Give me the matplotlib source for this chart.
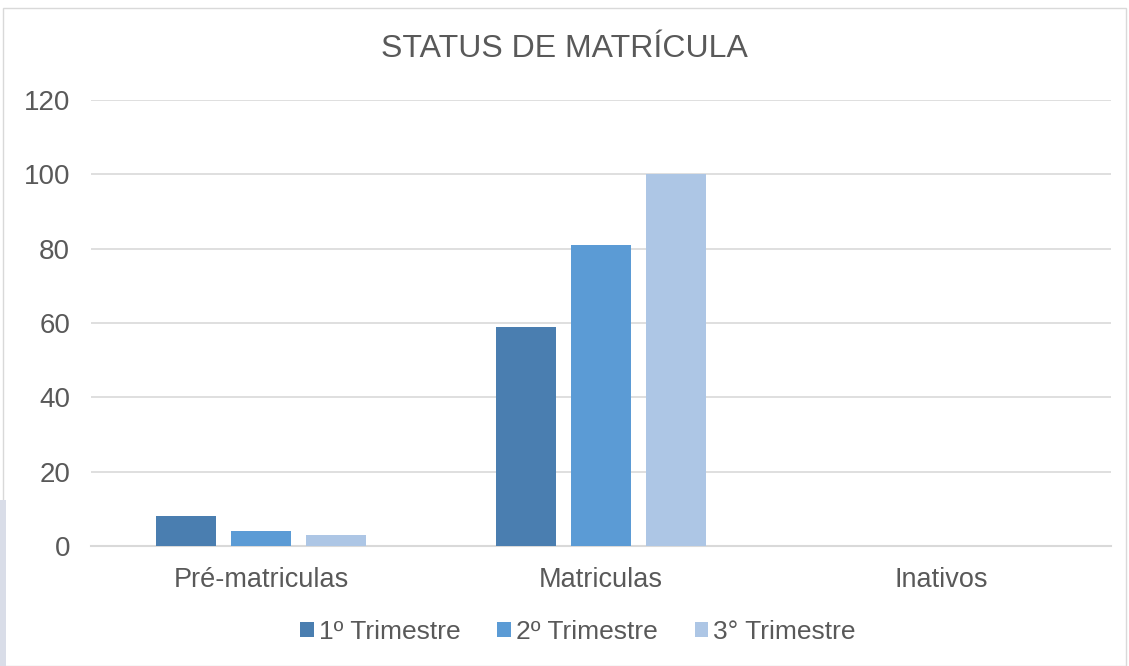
import numpy as np
import matplotlib.pyplot as plt
from matplotlib.patches import Rectangle

plt.rcParams['font.family'] = ['Liberation Sans', 'DejaVu Sans']

categories = ['Pré-matriculas', 'Matriculas', 'Inativos']
series = ['1º Trimestre', '2º Trimestre', '3° Trimestre']
tri1 = [8, 59, 0]
tri2 = [4, 81, 0]
tri3 = [3, 100, 0]
colors = ['#4A7EB0', '#5B9BD5', '#ADC6E5']
text_col = '#595959'

fig = plt.figure(figsize=(11.29, 6.66), dpi=100)
# chart border and the page strip on the left edge
fig.patches.append(Rectangle((3/1129, 0), 1 - 6/1129, 1 - 8/666, transform=fig.transFigure,
                             fill=False, edgecolor='#D9D9D9', lw=1))
fig.patches.append(Rectangle((0, 0), 6/1129, 1 - 500/666, transform=fig.transFigure,
                             facecolor='#D9DDE8', edgecolor='none'))

ax = fig.add_axes([91/1129, 120/666, 1020/1129, 446/666])
x = np.arange(len(categories))
w = 0.176
off = 0.221
for i, (vals, lab) in enumerate(zip([tri1, tri2, tri3], series)):
    ax.bar(x + (i - 1) * off, vals, w, color=colors[i], label=lab, zorder=3)

ax.set_xlim(-0.5, 2.5)
ax.set_ylim(0, 120)
ax.set_yticks(range(0, 121, 20))
ax.yaxis.grid(True, color='#D9D9D9', lw=1.2, zorder=0)
ax.set_xticks(x)
ax.set_xticklabels(categories)
for s in ['top', 'right', 'left']:
    ax.spines[s].set_visible(False)
ax.spines['bottom'].set_color('#D9D9D9')
ax.spines['bottom'].set_linewidth(1.5)
ax.tick_params(axis='both', length=0, colors=text_col)
ax.tick_params(axis='y', labelsize=20, pad=15)
ax.tick_params(axis='x', labelsize=19.5, pad=15)

fig.text(0.5, 1 - 49/666, 'STATUS DE MATRÍCULA', ha='center', va='center',
         fontsize=23, color=text_col)

ax.legend(loc='center', bbox_to_anchor=(578/1129, 1 - 632/666), bbox_transform=fig.transFigure,
          ncol=3, frameon=False, fontsize=19, labelcolor=text_col,
          handlelength=0.5, handleheight=0.5, handletextpad=0.2, columnspacing=1.4)

fig.savefig('out.png', dpi=100)
